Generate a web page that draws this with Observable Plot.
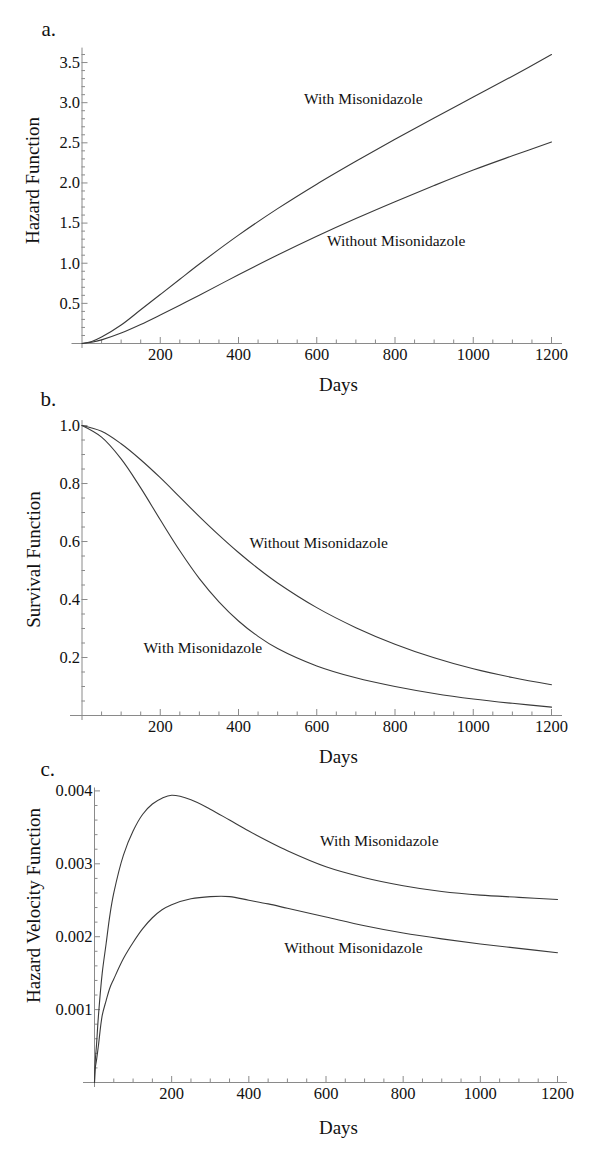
<!DOCTYPE html>
<html>
<head>
<meta charset="utf-8">
<script src="https://cdn.jsdelivr.net/npm/d3@7"></script>
<script src="https://cdn.jsdelivr.net/npm/@observablehq/plot@0.6"></script>
<style>
  html, body { margin: 0; padding: 0; background: #fff; }
  #chart { position: relative; width: 600px; height: 1153px; overflow: hidden; background: #fff; }
  #chart svg { position: absolute; left: 0; display: block; }
</style>
</head>
<body>
<div id="chart"></div>
<script>
// ---------- data ----------
const seriesNames = ["With Misonidazole", "Without Misonidazole"];

// a. Hazard function
const hazardDays    = [0, 25, 50, 100, 150, 200, 250, 300, 400, 500, 600, 700, 800, 900, 1000, 1100, 1200];
const hazardWith    = [0, 0.025, 0.08, 0.23, 0.42, 0.61, 0.80, 0.99, 1.35, 1.68, 1.985, 2.27, 2.545, 2.81, 3.07, 3.33, 3.60];
const hazardWithout = [0, 0.016, 0.045, 0.13, 0.236, 0.354, 0.476, 0.602, 0.856, 1.102, 1.336, 1.557, 1.767, 1.968, 2.161, 2.338, 2.51];

// b. Survival function
const survivalDays    = [0, 50, 100, 150, 200, 250, 300, 350, 400, 450, 500, 600, 700, 800, 900, 1000, 1100, 1200];
const survivalWith    = [1.0, 0.96, 0.885, 0.785, 0.675, 0.568, 0.472, 0.392, 0.326, 0.273, 0.231, 0.171, 0.13, 0.10, 0.076, 0.057, 0.042, 0.029];
const survivalWithout = [1.0, 0.98, 0.937, 0.882, 0.82, 0.753, 0.686, 0.622, 0.562, 0.507, 0.457, 0.372, 0.303, 0.246, 0.199, 0.161, 0.131, 0.106];

// c. Hazard velocity function
const velocityDays    = [0, 2, 5, 10, 20, 30, 40, 50, 75, 100, 125, 150, 175, 200, 250, 300, 350, 400, 450, 500, 600, 700, 800, 900, 1000, 1100, 1200];
const velocityWith    = [0, 0.0003, 0.0005, 0.0009, 0.0015, 0.0019, 0.0023, 0.0026, 0.00312, 0.00345, 0.00368, 0.00382, 0.0039, 0.00394, 0.00388, 0.00375, 0.0036, 0.00345, 0.00331, 0.00318, 0.00296, 0.00281, 0.0027, 0.00262, 0.00257, 0.00254, 0.00251];
const velocityWithout = [0, 0.0002, 0.0003, 0.0005, 0.00092, 0.00112, 0.0013, 0.00142, 0.0017, 0.00192, 0.00211, 0.00226, 0.00237, 0.00244, 0.00252, 0.00255, 0.00255, 0.0025, 0.00245, 0.00239, 0.00227, 0.00215, 0.00205, 0.00197, 0.0019, 0.00184, 0.00178];

// ticks
const xTickValues = [200, 400, 600, 800, 1000, 1200];
const xTickLabels = ["200", "400", "600", "800", "1000", "1200"];
const hazardTickValues = [0.5, 1.0, 1.5, 2.0, 2.5, 3.0, 3.5];
const hazardTickLabels = ["0.5", "1.0", "1.5", "2.0", "2.5", "3.0", "3.5"];
const survivalTickValues = [0.2, 0.4, 0.6, 0.8, 1.0];
const survivalTickLabels = ["0.2", "0.4", "0.6", "0.8", "1.0"];
const velocityTickValues = [0.001, 0.002, 0.003, 0.004];
const velocityTickLabels = ["0.001", "0.002", "0.003", "0.004"];

// annotation anchors (day, value)
const hazardNotes   = [{text: "With Misonidazole", day: 719, value: 2.98}, {text: "Without Misonidazole", day: 803, value: 1.22}];
const survivalNotes = [{text: "Without Misonidazole", day: 605, value: 0.579}, {text: "With Misonidazole", day: 309, value: 0.214}];
const velocityNotes = [{text: "With Misonidazole", day: 738, value: 0.003247}, {text: "Without Misonidazole", day: 671, value: 0.001781}];

// ---------- helpers ----------
const serif = "'Liberation Serif', 'Times New Roman', Times, serif";
const axisColor = "#8a8a8a";
const lineColor = "#3a3a3a";

function rows(days, a, b) {
  return days.flatMap((d, i) => [
    {day: d, value: a[i], series: seriesNames[0]},
    {day: d, value: b[i], series: seriesNames[1]}
  ]);
}

function panel(o) {
  const {top, height, mt, mb, ml, mr, yDomain, data, yTicks, yLabels, yMinor, notes,
         letter, letterPos, title, titlePos, daysPos, ext} = o;
  const place = (px, py) => ({frameAnchor: "top-left", dx: px - ml, dy: py - mt});
  const xMinor = d3.range(50, 1201, 50).filter(d => d % 200 !== 0);
  const svg = Plot.plot({
    width: 600, height,
    marginTop: mt, marginBottom: mb, marginLeft: ml, marginRight: mr,
    style: {background: "transparent", overflow: "visible", fontFamily: serif},
    x: {domain: [0, 1200], axis: null},
    y: {domain: yDomain, axis: null},
    marks: [
      // axis lines
      Plot.ruleY([0], {stroke: axisColor, strokeWidth: 1, insetLeft: -ext[0], insetRight: -ext[1]}),
      Plot.ruleX([0], {stroke: axisColor, strokeWidth: 1, insetBottom: -5}),
      // x ticks (inward)
      Plot.ruleX(xTickValues, {x: d => d, y1: () => yDomain[0], y2: () => yDomain[0], insetTop: -6, stroke: axisColor}),
      Plot.ruleX(xMinor, {x: d => d, y1: () => yDomain[0], y2: () => yDomain[0], insetTop: -3.5, stroke: axisColor}),
      // y ticks (inward)
      Plot.ruleY(yTicks, {y: d => d, x1: () => 0, x2: () => 0, insetRight: -6, stroke: axisColor}),
      Plot.ruleY(yMinor, {y: d => d, x1: () => 0, x2: () => 0, insetRight: -3.5, stroke: axisColor}),
      // curves
      Plot.line(data, {x: "day", y: "value", z: "series", stroke: lineColor, strokeWidth: 1.1, curve: "catmull-rom"}),
      // tick labels
      Plot.text(xTickValues, {x: d => d, text: (d, i) => xTickLabels[i], frameAnchor: "bottom", dy: 16, fontSize: 16.5, fill: "#111", fontFamily: serif}),
      Plot.text(yTicks, {y: d => d, text: (d, i) => yLabels[i], frameAnchor: "left", textAnchor: "end", dx: -2, fontSize: 16.5, fill: "#111", fontFamily: serif}),
      // annotations
      Plot.text(notes, {x: "day", y: "value", text: "text", textAnchor: "middle", lineAnchor: "bottom", fontSize: 15.5, fill: "#111", fontFamily: serif}),
      // panel letter
      Plot.text([letter], {text: d => d, ...place(letterPos[0], letterPos[1]), textAnchor: "start", lineAnchor: "bottom", fontSize: 21, fill: "#111", fontFamily: serif}),
      // y title
      Plot.text([title], {text: d => d, ...place(titlePos[0], titlePos[1]), rotate: -90, textAnchor: "middle", lineAnchor: "middle", fontSize: 19, fill: "#111", fontFamily: serif}),
      // x title
      Plot.text(["Days"], {text: d => d, ...place(daysPos[0], daysPos[1]), textAnchor: "middle", lineAnchor: "bottom", fontSize: 19, fill: "#111", fontFamily: serif})
    ]
  });
  svg.style.top = top + "px";
  document.getElementById("chart").appendChild(svg);
}

const hazardMinor = d3.range(1, 37).filter(i => i % 5 !== 0).map(i => i / 10);
const survivalMinor = d3.range(1, 20).filter(i => i % 4 !== 0).map(i => i / 20);
const velocityMinor = d3.range(1, 20).filter(i => i % 5 !== 0).map(i => i / 5000);

panel({
  top: 0, height: 400, mt: 47.6, mb: 57, ml: 81.5, mr: 49,
  yDomain: [0, 3.68],
  data: rows(hazardDays, hazardWith, hazardWithout),
  yTicks: hazardTickValues, yLabels: hazardTickLabels, yMinor: hazardMinor,
  notes: hazardNotes,
  letter: "a.", letterPos: [41, 35],
  title: "Hazard Function", titlePos: [32, 180],
  daysPos: [338, 390],
  ext: [10, 11]
});

panel({
  top: 392, height: 380, mt: 28.1, mb: 57, ml: 81.5, mr: 49,
  yDomain: [0, 1.017],
  data: rows(survivalDays, survivalWith, survivalWithout),
  yTicks: survivalTickValues, yLabels: survivalTickLabels, yMinor: survivalMinor,
  notes: survivalNotes,
  letter: "b.", letterPos: [40, 13],
  title: "Survival Function", titlePos: [33, 167],
  daysPos: [338, 370],
  ext: [11.5, 11]
});

panel({
  top: 764, height: 389, mt: 23.5, mb: 71, ml: 94, mr: 43,
  yDomain: [0, 0.00404],
  data: rows(velocityDays, velocityWith, velocityWithout),
  yTicks: velocityTickValues, yLabels: velocityTickLabels, yMinor: velocityMinor,
  notes: velocityNotes,
  letter: "c.", letterPos: [40, 11],
  title: "Hazard Velocity Function", titlePos: [33, 141],
  daysPos: [338, 369],
  ext: [11, 10]
});
</script>
</body>
</html>
